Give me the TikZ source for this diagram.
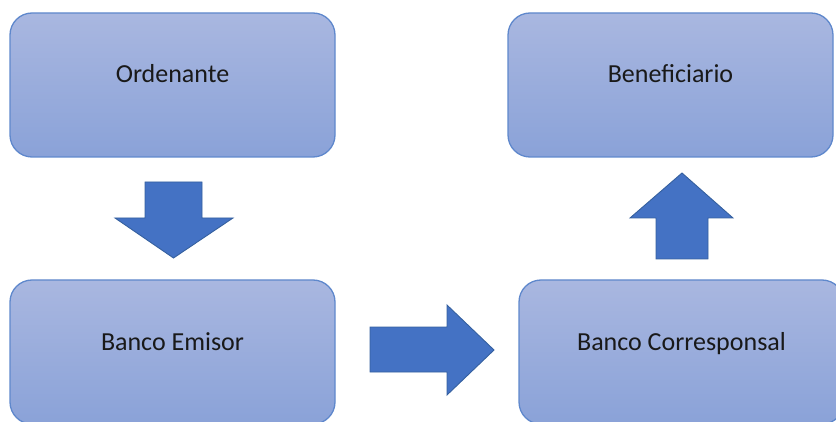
\documentclass[tikz,border=0pt]{standalone}
\usepackage{fontspec}
\setmainfont{Carlito}
\definecolor{boxtop}{HTML}{A9B7E0}
\definecolor{boxbot}{HTML}{8AA2D8}
\definecolor{boxline}{HTML}{5F88CC}
\definecolor{arrfill}{HTML}{4472C4}
\definecolor{arrline}{HTML}{35609F}
\begin{document}
\begin{tikzpicture}[x=1pt,y=1pt,
  flowbox/.style={draw=boxline, line width=1.3pt, rounded corners=22pt,
    top color=boxtop, bottom color=boxbot,
    minimum width=325pt, minimum height=144pt, inner sep=0pt,
    font=\fontsize{26}{31}\selectfont, text=black!90,
    text height=17pt, text depth=21pt},
  blockarrow/.style={fill=arrfill, draw=arrline, line width=0.9pt, line join=miter}]
\useasboundingbox (0,0) rectangle (836,421);
\clip (0,0) rectangle (836,421);
\node[flowbox] (ord) at (172.5,336) {Ordenante};
\node[flowbox] (ben) at (670.5,336) {Beneficiario};
\node[flowbox] (emi) at (172.5,69) {Banco Emisor};
\node[flowbox] (cor) at (681.5,69) {Banco Corresponsal};
% down arrow
\draw[blockarrow] (145,239) -- (202,239) -- (202,203) -- (233,203) -- (173.5,163)
  -- (115,203) -- (145,203) -- cycle;
% right arrow
\draw[blockarrow] (370,94) -- (447,94) -- (447,116) -- (494,71) -- (447,26)
  -- (447,49) -- (370,49) -- cycle;
% up arrow
\draw[blockarrow] (656,162) -- (708,162) -- (708,203) -- (733,203) -- (682,248)
  -- (630,203) -- (656,203) -- cycle;
\end{tikzpicture}
\end{document}
